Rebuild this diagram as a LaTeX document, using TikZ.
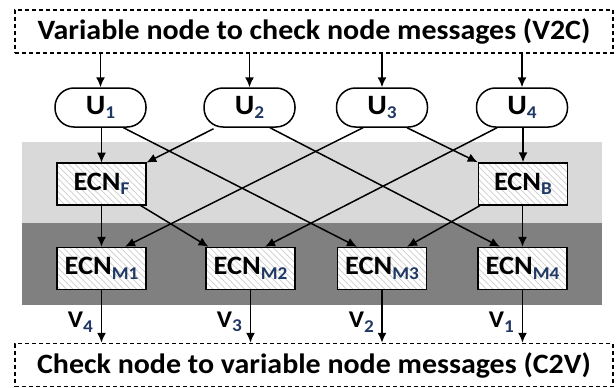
\documentclass[tikz,border=0pt]{standalone}
\usepackage{fontspec}
\setmainfont{Carlito}[FakeStretch=1.07]
\usetikzlibrary{arrows.meta,patterns.meta}
\definecolor{subc}{HTML}{1F3864}
\definecolor{bandlight}{HTML}{D9D9D9}
\definecolor{banddark}{HTML}{808080}
\newcommand{\mysub}[1]{\raisebox{-4.5pt}{\fontsize{18}{18}\selectfont\color{subc}#1}}
\begin{document}
\begin{tikzpicture}[x=1pt,y=-1pt,
  font=\fontsize{28}{30}\selectfont\bfseries,
  lw/.style={line width=1.5pt},
  msgbox/.style={draw, lw, dash pattern=on 4pt off 3pt, minimum width=598pt, minimum height=43pt, inner sep=0pt},
  unode/.style={draw, lw, rounded corners=19pt, minimum width=91pt, minimum height=39pt, inner sep=0pt, fill=white},
  ecn/.style={draw, lw, minimum width=89pt, minimum height=42pt, inner sep=0pt,
     preaction={fill=white}, pattern={Lines[angle=-45,distance=4.5pt,line width=0.7pt]}, pattern color=black!20,
     font=\fontsize{26.5}{28}\selectfont\bfseries},
  vlab/.style={anchor=east, inner sep=0pt, font=\fontsize{24}{26}\selectfont\bfseries},
  arr/.style={lw, -{Latex[length=10pt,width=9pt]}}]
\useasboundingbox (0,0) rectangle (616,388);
% bands
\fill[bandlight] (22,142) rectangle (602,223);
\fill[banddark] (22,223) rectangle (602,305);
% message boxes
\node[msgbox] (top) at (314,31.5) {Variable node to check node messages (V2C)};
\node[msgbox] (bot) at (314,365) {Check node to variable node messages (C2V)};
% U nodes
\node[unode] (U1) at (100.5,107.5) {U\mysub{1}};
\node[unode] (U2) at (249.5,107.5) {U\mysub{2}};
\node[unode] (U3) at (382,107.5) {U\mysub{3}};
\node[unode] (U4) at (522,107.5) {U\mysub{4}};
% ECN nodes
\node[ecn] (EF) at (101.5,184) {ECN\mysub{F}};
\node[ecn] (EB) at (523,184) {ECN\mysub{B}};
\node[ecn] (M1) at (101.5,268.5) {ECN\mysub{M1}};
\node[ecn] (M2) at (250.5,268.5) {ECN\mysub{M2}};
\node[ecn] (M3) at (382,268.5) {ECN\mysub{M3}};
\node[ecn] (M4) at (522.5,268.5) {ECN\mysub{M4}};
% top arrows
\foreach \u in {U1,U2,U3,U4}{
  \draw[arr] (top.south -| \u) -- (\u.north);
}
% U to ECN
\draw[arr] (U1.south -| EF) -- (EF.north);
\draw[arr] (U4.south -| EB) -- (EB.north);
\draw[arr] ([xshift=23pt]U1.south) -- ([xshift=-25pt]M3.north);
\draw[arr] ([xshift=-36pt,yshift=-1pt]U2.south) -- (EF.north east);
\draw[arr] ([xshift=20.5pt]U2.south) -- ([xshift=-22.5pt]M4.north);
\draw[arr] ([xshift=-19pt]U3.south) -- ([xshift=23.5pt]M1.north);
\draw[arr] ([xshift=25pt]U3.south) -- (EB.north west);
\draw[arr] ([xshift=-25pt]U4.south) -- ([xshift=14.5pt]M2.north);
% ECN to M
\draw[arr] (EF.south) -- (M1.north);
\draw[arr] (EB.south -| M4) -- (M4.north);
\draw[arr] ([xshift=-6pt]EF.south east) -- ([xshift=-42pt]M2.north);
\draw[arr] ([xshift=2pt]EB.south west) -- ([xshift=25pt]M3.north);
% outputs
\foreach \m in {M1,M2,M3,M4}{
  \draw[arr] (\m.south) -- (\m.south |- bot.north);
}
\node[vlab] (v4) at (93,322) {V\mysub{4}};
\node[vlab] (v3) at (242,322) {V\mysub{3}};
\node[vlab] (v2) at (374,322) {V\mysub{2}};
\node[vlab] (v1) at (514,322) {V\mysub{1}};
\end{tikzpicture}
\end{document}
